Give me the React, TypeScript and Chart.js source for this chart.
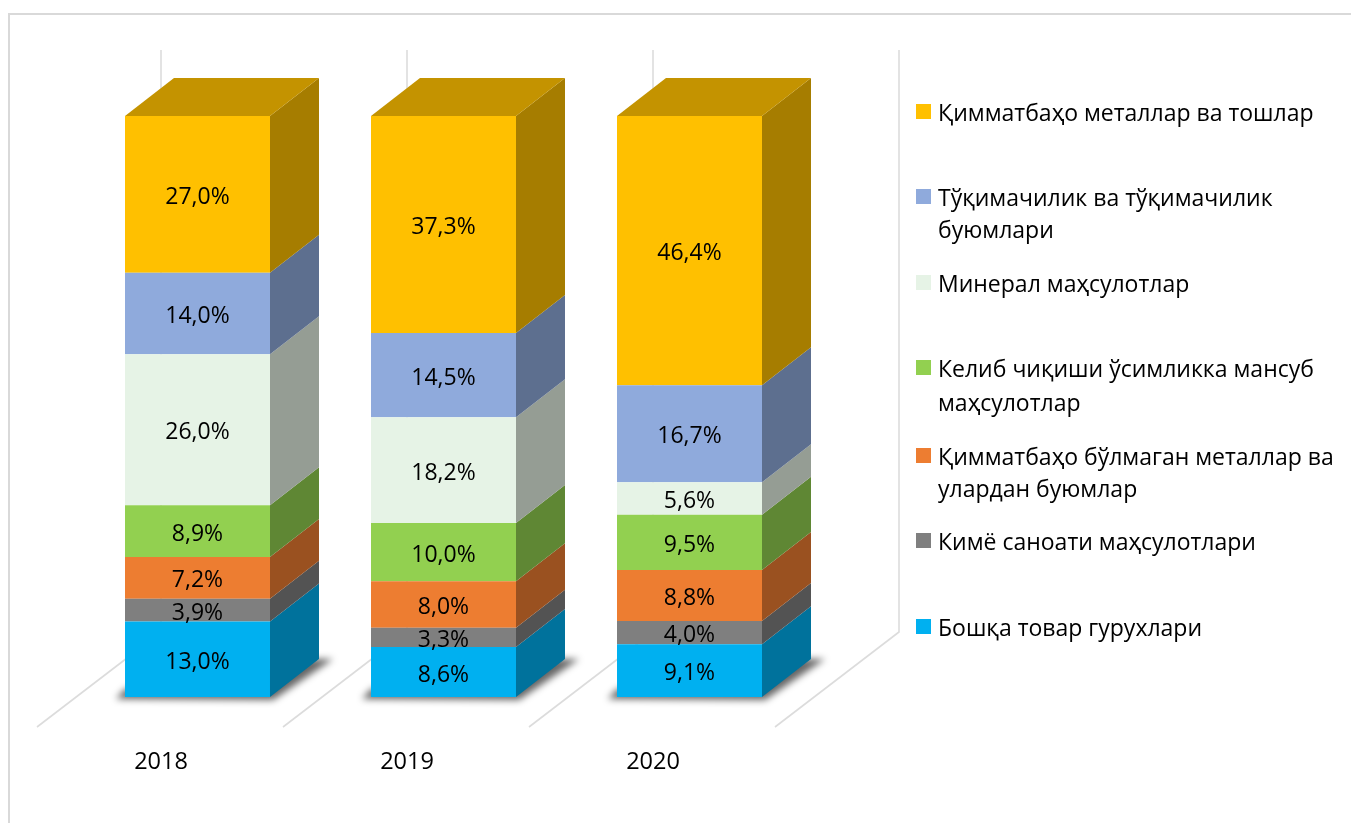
import React, { useEffect, useRef } from "react";
import { Chart, registerables } from "chart.js";

Chart.register(...registerables);

const categories = ["2018", "2019", "2020"];
const seriesNames = [
  "Бошқа товар гурухлари",
  "Кимё саноати маҳсулотлари",
  "Қимматбаҳо бўлмаган металлар ва улардан буюмлар",
  "Келиб чиқиши ўсимликка мансуб маҳсулотлар",
  "Минерал маҳсулотлар",
  "Тўқимачилик ва тўқимачилик буюмлари",
  "Қимматбаҳо металлар ва тошлар",
];
const other = [13.0, 8.6, 9.1];
const chemical = [3.9, 3.3, 4.0];
const baseMetals = [7.2, 8.0, 8.8];
const vegetable = [8.9, 10.0, 9.5];
const mineral = [26.0, 18.2, 5.6];
const textile = [14.0, 14.5, 16.7];
const precious = [27.0, 37.3, 46.4];
const seriesValues = [other, chemical, baseMetals, vegetable, mineral, textile, precious];

const frontColors = ["#00B0F0", "#7F7F7F", "#ED7D31", "#92D050", "#E6F3E6", "#8FAADC", "#FFC000"];
const sideColors = ["#00729C", "#535353", "#9A5120", "#5F8734", "#959D94", "#5D6F8F", "#A67D00"];
const topColor = "#C49300";

const legendLines = [
  ["Қимматбаҳо металлар ва тошлар"],
  ["Тўқимачилик ва тўқимачилик", "буюмлари"],
  ["Минерал маҳсулотлар"],
  ["Келиб чиқиши ўсимликка мансуб", "маҳсулотлар"],
  ["Қимматбаҳо бўлмаган металлар ва", "улардан буюмлар"],
  ["Кимё саноати маҳсулотлари"],
  ["Бошқа товар гурухлари"],
];
const legendColors = [...frontColors].reverse();
const legendCenters = [
  [112],
  [197, 229],
  [283],
  [368, 402],
  [456, 488],
  [541],
  [627],
];

const FONT = '"Open Sans", "Noto Sans", sans-serif';
const LABEL_FONT = `23px ${FONT}`;
const LEGEND_FONT = `23px ${FONT}`;
const DEPTH_X = 49;
const DEPTH_Y = 38;

const totals = categories.map((_, i) => seriesValues.reduce((s, a) => s + a[i], 0));

const decorPlugin = {
  id: "decor3d",
  beforeDraw(chart: any) {
    const { ctx, chartArea, scales } = chart;
    const x = scales.x;
    const step = x.getPixelForTick(1) - x.getPixelForTick(0);
    const bottom = chartArea.bottom;
    ctx.save();
    ctx.fillStyle = "#ffffff";
    ctx.fillRect(0, 0, chart.width, chart.height);
    // outer frame, open towards the page edges
    ctx.strokeStyle = "#D9D9D9";
    ctx.lineWidth = 2;
    ctx.beginPath();
    ctx.moveTo(9, chart.height);
    ctx.lineTo(9, 14);
    ctx.lineTo(chart.width, 14);
    ctx.stroke();
    // back wall and floor grid
    ctx.lineWidth = 1.6;
    ctx.strokeStyle = "#DCDCDC";
    for (let i = 0; i <= categories.length; i++) {
      const edge = x.getPixelForTick(0) - step / 2 + i * step;
      const bx = edge + 86.5;
      const fx = edge - 37.5;
      ctx.beginPath();
      ctx.moveTo(bx, chartArea.top - 66);
      ctx.lineTo(bx, bottom - 65);
      ctx.lineTo(fx, bottom + 30);
      ctx.stroke();
    }
    ctx.restore();
  },
  beforeDatasetsDraw(chart: any) {
    const { ctx } = chart;
    const n = chart.data.datasets.length;
    const base = chart.getDatasetMeta(0).data;
    const topMeta = chart.getDatasetMeta(n - 1).data;
    ctx.save();
    // soft floor shadow below every column
    base.forEach((el: any) => {
      const l = el.x - el.width / 2;
      const r = el.x + el.width / 2;
      const b = el.base;
      ctx.save();
      ctx.filter = "blur(3.5px)";
      ctx.fillStyle = "rgba(0,0,0,0.6)";
      ctx.beginPath();
      ctx.moveTo(l - 9, b + 2);
      ctx.lineTo(r + 3, b + 3);
      ctx.lineTo(r + DEPTH_X + 14, b - DEPTH_Y);
      ctx.lineTo(r + DEPTH_X - 10, b - DEPTH_Y);
      ctx.lineTo(l, b - 8);
      ctx.closePath();
      ctx.fill();
      ctx.restore();
    });
    // right-hand side faces
    for (let d = 0; d < n; d++) {
      chart.getDatasetMeta(d).data.forEach((el: any) => {
        const r = el.x + el.width / 2;
        ctx.fillStyle = sideColors[d];
        ctx.beginPath();
        ctx.moveTo(r, el.base);
        ctx.lineTo(r + DEPTH_X, el.base - DEPTH_Y);
        ctx.lineTo(r + DEPTH_X, el.y - DEPTH_Y);
        ctx.lineTo(r, el.y);
        ctx.closePath();
        ctx.fill();
      });
    }
    // top faces
    topMeta.forEach((el: any) => {
      const l = el.x - el.width / 2;
      const r = el.x + el.width / 2;
      ctx.fillStyle = topColor;
      ctx.beginPath();
      ctx.moveTo(l, el.y);
      ctx.lineTo(l + DEPTH_X, el.y - DEPTH_Y);
      ctx.lineTo(r + DEPTH_X, el.y - DEPTH_Y);
      ctx.lineTo(r, el.y);
      ctx.closePath();
      ctx.fill();
    });
    ctx.restore();
  },
  afterDatasetsDraw(chart: any) {
    const { ctx } = chart;
    ctx.save();
    // value labels
    ctx.font = LABEL_FONT;
    ctx.fillStyle = "#000000";
    ctx.textAlign = "center";
    ctx.textBaseline = "middle";
    seriesValues.forEach((values, d) => {
      chart.getDatasetMeta(d).data.forEach((el: any, i: number) => {
        const text = values[i].toFixed(1).replace(".", ",") + "%";
        ctx.fillText(text, el.x, (el.y + el.base) / 2 + 3);
      });
    });
    // legend
    ctx.font = LEGEND_FONT;
    ctx.textAlign = "left";
    legendLines.forEach((lines, i) => {
      ctx.fillStyle = legendColors[i];
      ctx.fillRect(916, legendCenters[i][0] - 8, 15, 15);
      ctx.fillStyle = "#000000";
      lines.forEach((line, j) => ctx.fillText(line, 938, legendCenters[i][j] + 2));
    });
    ctx.restore();
  },
};

export default function App() {
  const ref = useRef<HTMLCanvasElement | null>(null);
  useEffect(() => {
    const chart = new Chart(ref.current as HTMLCanvasElement, {
      type: "bar",
      data: {
        labels: categories,
        datasets: seriesValues.map((values, d) => ({
          label: seriesNames[d],
          data: values.map((v, i) => (v / totals[i]) * 100),
          backgroundColor: frontColors[d],
          borderWidth: 0,
          barPercentage: 0.5894,
          categoryPercentage: 1,
        })),
      },
      options: {
        responsive: false,
        animation: false,
        layout: { padding: { left: 74.5, right: 538.5, top: 116, bottom: 0 } },
        plugins: { legend: { display: false }, tooltip: { enabled: false }, title: { display: false } },
        scales: {
          x: {
            stacked: true,
            grid: { display: false, drawTicks: false },
            border: { display: false },
            afterFit(axis: any) {
              axis.height = 126;
            },
            ticks: {
              font: { family: FONT, size: 23.5 },
              color: "#000000",
              padding: 51,
              labelOffset: -36.5,
              maxRotation: 0,
              autoSkip: false,
            },
          },
          y: { stacked: true, display: false, min: 0, max: 100 },
        },
      },
      plugins: [decorPlugin],
    } as any);
    return () => chart.destroy();
  }, []);
  return (
    <canvas
      ref={ref}
      width={1351}
      height={823}
      style={{ position: "fixed", left: 0, top: 0, width: 1351, height: 823, display: "block" }}
    />
  );
}
